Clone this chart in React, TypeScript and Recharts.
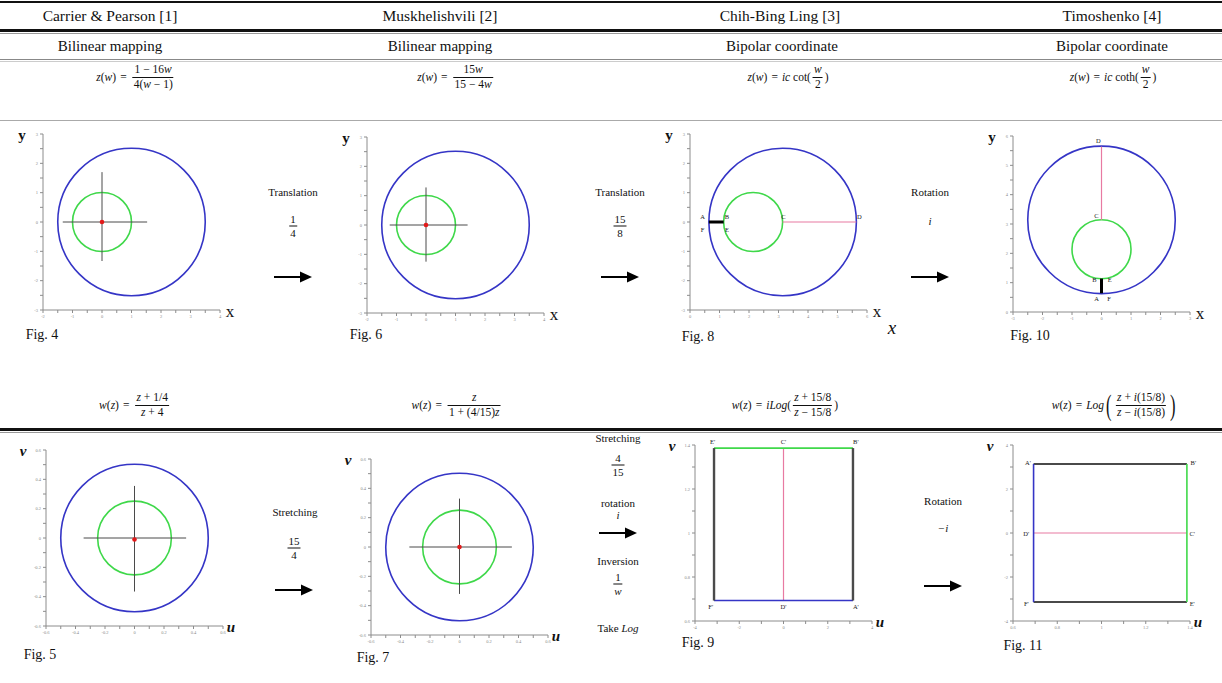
import { ScatterChart, Scatter, XAxis, YAxis, ReferenceDot } from 'recharts';

const SERIF = '"Liberation Serif", "Times New Roman", serif';
const BLUE = '#3535c6';
const GREEN = '#3fd84a';
const PINK = '#e87aa2';
const DARK = '#4a4a4a';
const RED = '#e21a1a';
const AXIS = '#8c8c8c';

// ---- data ---------------------------------------------------------------
const fig4X = [-2, -1, 0, 1, 2, 3, 4];
const fig4Y = [-3, -2, -1, 0, 1, 2, 3];
const fig4Outer = [{ x: 1, y: 0, r: 2.5 }];
const fig4Inner = [{ x: 0, y: 0, r: 1 }];
const fig4CrossH = [{ x: -1.33, y: 0 }, { x: 1.53, y: 0 }];
const fig4CrossV = [{ x: 0, y: -1.33 }, { x: 0, y: 1.7 }];
const fig4Center = [{ x: 0, y: 0 }];

const fig6X = [-2, -1, 0, 1, 2, 3, 4];
const fig6Y = [-3, -2, -1, 0, 1, 2, 3];
const fig6Outer = [{ x: 1, y: 0, r: 2.5 }];
const fig6Inner = [{ x: 0, y: 0, r: 1 }];
const fig6CrossH = [{ x: -1.23, y: 0 }, { x: 1.41, y: 0 }];
const fig6CrossV = [{ x: 0, y: -1.25 }, { x: 0, y: 1.28 }];
const fig6Center = [{ x: 0, y: 0 }];

const fig8X = [0, 1, 2, 3, 4, 5, 6];
const fig8Y = [-3, -2, -1, 0, 1, 2, 3];
const fig8Outer = [{ x: 3.14, y: 0, r: 2.5 }];
const fig8Inner = [{ x: 2.14, y: 0, r: 1 }];
const fig8Pink = [{ x: 3.14, y: 0 }, { x: 5.64, y: 0 }];
const fig8Cut = [{ x: 0.64, y: 0 }, { x: 1.14, y: 0 }];
const fig8Labels = [
  { x: 0.43, y: 0.2, t: 'A' }, { x: 1.25, y: 0.2, t: 'B' },
  { x: 0.43, y: -0.25, t: 'F' }, { x: 1.25, y: -0.25, t: 'E' },
  { x: 3.17, y: 0.2, t: 'C' }, { x: 5.74, y: 0.2, t: 'D' },
];

const fig10X = [-3, -2, -1, 0, 1, 2, 3];
const fig10Y = [0, 1, 2, 3, 4, 5, 6];
const fig10Outer = [{ x: 0, y: 3.14, r: 2.5 }];
const fig10Inner = [{ x: 0, y: 2.14, r: 1 }];
const fig10Pink = [{ x: 0, y: 3.14 }, { x: 0, y: 5.64 }];
const fig10Cut = [{ x: 0, y: 0.64 }, { x: 0, y: 1.14 }];
const fig10Labels = [
  { x: -0.11, y: 5.86, t: 'D' }, { x: -0.17, y: 3.28, t: 'C' },
  { x: -0.24, y: 1.1, t: 'B' }, { x: 0.28, y: 1.1, t: 'E' },
  { x: -0.17, y: 0.45, t: 'A' }, { x: 0.26, y: 0.45, t: 'F' },
];

const fig5X = [-0.6, -0.4, -0.2, 0, 0.2, 0.4, 0.6];
const fig5Y = [-0.6, -0.4, -0.2, 0, 0.2, 0.4, 0.6];
const fig5Outer = [{ x: 0, y: 0, r: 0.5 }];
const fig5Inner = [{ x: 0, y: 0, r: 0.25 }];
const fig5CrossH = [{ x: -0.345, y: 0 }, { x: 0.35, y: 0 }];
const fig5CrossV = [{ x: 0, y: -0.365 }, { x: 0, y: 0.355 }];
const fig5Center = [{ x: 0, y: -0.01 }];

const fig7X = [-0.6, -0.4, -0.2, 0, 0.2, 0.4, 0.6];
const fig7Y = [-0.6, -0.4, -0.2, 0, 0.2, 0.4, 0.6];
const fig7Outer = [{ x: 0, y: 0, r: 0.5 }];
const fig7Inner = [{ x: 0, y: 0, r: 0.25 }];
const fig7CrossH = [{ x: -0.34, y: 0 }, { x: 0.355, y: 0 }];
const fig7CrossV = [{ x: 0, y: -0.32 }, { x: 0, y: 0.33 }];
const fig7Center = [{ x: 0, y: 0 }];

const fig9X = [-4, -2, 0, 2, 4];
const fig9Y = [0.6, 0.8, 1, 1.2, 1.4];
const fig9Top = [{ x: -3.14, y: 1.386 }, { x: 3.14, y: 1.386 }];
const fig9Bottom = [{ x: -3.14, y: 0.693 }, { x: 3.14, y: 0.693 }];
const fig9Left = [{ x: -3.14, y: 0.693 }, { x: -3.14, y: 1.386 }];
const fig9Right = [{ x: 3.14, y: 0.693 }, { x: 3.14, y: 1.386 }];
const fig9Mid = [{ x: 0, y: 0.693 }, { x: 0, y: 1.386 }];
const fig9Labels = [
  { x: -3.2, y: 1.415, t: "E'" }, { x: 0, y: 1.415, t: "C'" }, { x: 3.27, y: 1.415, t: "B'" },
  { x: -3.29, y: 0.668, t: "F'" }, { x: 0, y: 0.668, t: "D'" }, { x: 3.27, y: 0.668, t: "A'" },
];

const fig11X = [0.6, 0.8, 1, 1.2, 1.4];
const fig11Y = [-4, -2, 0, 2, 4];
const fig11Left = [{ x: 0.693, y: -3.14 }, { x: 0.693, y: 3.14 }];
const fig11Right = [{ x: 1.386, y: -3.14 }, { x: 1.386, y: 3.14 }];
const fig11Top = [{ x: 0.693, y: 3.14 }, { x: 1.386, y: 3.14 }];
const fig11Bottom = [{ x: 0.693, y: -3.14 }, { x: 1.386, y: -3.14 }];
const fig11Mid = [{ x: 0.693, y: 0 }, { x: 1.386, y: 0 }];
const fig11Labels = [
  { x: 0.668, y: 3.21, t: "A'" }, { x: 1.415, y: 3.21, t: "B'" },
  { x: 0.66, y: -0.03, t: "D'" }, { x: 1.41, y: 0, t: "C'" },
  { x: 0.66, y: -3.2, t: "F'" }, { x: 1.41, y: -3.2, t: "E'" },
];

// ---- panel geometry -------------------------------------------------------
const PW = 177;
const PH = 176;
const YW = 24;
const XH = 18;
const M = { top: 10, right: 24, left: 0, bottom: 0 };

type Pt = { x: number; y: number };
type Circ = { data: (Pt & { r: number })[]; color: string };
type Seg = { data: Pt[]; color: string; w: number };
type Lab = Pt & { t: string };

const withMinor = (major: number[]) => {
  const out: number[] = [];
  major.forEach((v, i) => {
    out.push(v);
    if (i < major.length - 1) out.push((v + major[i + 1]) / 2);
  });
  return out;
};

function Panel(props: {
  left: number; top: number; xTicks: number[]; yTicks: number[];
  circles?: Circ[]; segs?: Seg[]; dots?: Pt[]; labels?: Lab[];
  xName: string; yName: string; uv?: boolean;
}) {
  const { left, top, xTicks, yTicks, circles = [], segs = [], dots, labels = [], xName, yName, uv } = props;
  const xDom: [number, number] = [xTicks[0], xTicks[xTicks.length - 1]];
  const yDom: [number, number] = [yTicks[0], yTicks[yTicks.length - 1]];
  const ppu = PW / (xDom[1] - xDom[0]);
  const xMajor = new Set(xTicks);
  const yMajor = new Set(yTicks);
  const tickStyle = { fontSize: 4.5, fill: '#8a8a8a', fontFamily: SERIF };

  return (
    <>
      <div style={{ position: 'absolute', left: left - YW, top: top - M.top }}>
        <ScatterChart width={YW + PW + M.right} height={M.top + PH + XH} margin={M}>
          <XAxis type="number" dataKey="x" domain={xDom} ticks={withMinor(xTicks)} interval={0}
            tickFormatter={(v: number) => (xMajor.has(v) ? String(v) : '')}
            tick={tickStyle} tickSize={3} stroke={AXIS} height={XH} />
          <YAxis type="number" dataKey="y" domain={yDom} ticks={withMinor(yTicks)} interval={0}
            tickFormatter={(v: number) => (yMajor.has(v) ? String(v) : '')}
            tick={tickStyle} tickSize={3} stroke={AXIS} width={YW} />
          {circles.map((c, i) => (
            <Scatter key={'c' + i} data={c.data} isAnimationActive={false}
              shape={(p: any) => (
                <circle cx={p.cx} cy={p.cy} r={p.payload.r * ppu} fill="none" stroke={c.color} strokeWidth={1.6} />
              )} />
          ))}
          {segs.map((s, i) => (
            <Scatter key={'s' + i} data={s.data} isAnimationActive={false} lineType="joint"
              line={{ stroke: s.color, strokeWidth: s.w }} shape={() => <g />} />
          ))}
          {dots && (
            <Scatter data={dots} isAnimationActive={false}
              shape={(p: any) => <circle cx={p.cx} cy={p.cy} r={2.3} fill={RED} />} />
          )}
          {labels.map((l, i) => (
            <ReferenceDot key={'l' + i} x={l.x} y={l.y} r={0} ifOverflow="visible"
              shape={(p: any) => (
                <text x={p.cx} y={p.cy} textAnchor="middle" dominantBaseline="central"
                  fontSize={6.5} fontFamily={SERIF} fill="#222">{l.t}</text>
              )} />
          ))}
        </ScatterChart>
      </div>
      <Txt x={left - (uv ? 23 : 21)} y={top + 1} size={15} bold italic={uv}>{yName}</Txt>
      <Txt x={left + PW + (uv ? 8 : 10)} y={top + PH + 1} size={uv ? 15 : 17} bold={uv} italic={uv}>{xName}</Txt>
    </>
  );
}

function Txt({ x, y, size = 11, bold, italic, children }: any) {
  return (
    <div style={{
      position: 'absolute', left: x, top: y, transform: 'translate(-50%, -50%)',
      fontFamily: SERIF, fontSize: size, fontWeight: bold ? 'bold' : 'normal',
      fontStyle: italic ? 'italic' : 'normal', whiteSpace: 'nowrap', lineHeight: 1, color: '#111',
    }}>{children}</div>
  );
}

function Frac({ n, d }: any) {
  return (
    <span style={{ display: 'inline-flex', flexDirection: 'column', alignItems: 'stretch', verticalAlign: 'middle', margin: '0 2px', textAlign: 'center' }}>
      <span style={{ padding: '0 1px 1px', lineHeight: 1 }}>{n}</span>
      <span style={{ borderTop: '0.8px solid #111', padding: '1px 1px 0', lineHeight: 1 }}>{d}</span>
    </span>
  );
}

function Formula({ x, y, children, size = 11.5 }: any) {
  return (
    <div style={{
      position: 'absolute', left: x, top: y, transform: 'translate(-50%, -50%)',
      fontFamily: SERIF, fontSize: size, whiteSpace: 'nowrap', display: 'flex', alignItems: 'center', color: '#111',
    }}>{children}</div>
  );
}

function Arrow({ x, y }: { x: number; y: number }) {
  return (
    <svg style={{ position: 'absolute', left: x - 19, top: y - 6 }} width={38} height={12}>
      <line x1={0} y1={6} x2={28} y2={6} stroke="#000" strokeWidth={2} />
      <polygon points="26,0.5 38,6 26,11.5" fill="#000" />
    </svg>
  );
}

const I = ({ children }: any) => <i>{children}</i>;
const Eq = () => <span style={{ margin: '0 4px' }}>=</span>;
const Paren = ({ c }: { c: string }) => (
  <span style={{ fontSize: 30, lineHeight: 1, transform: 'scaleX(0.55)', display: 'inline-block', fontWeight: 200 }}>{c}</span>
);

function HLine({ y, h, color }: { y: number; h: number; color: string }) {
  return <div style={{ position: 'absolute', left: 0, top: y, width: 1222, height: h, background: color }} />;
}

export default function App() {
  return (
    <div style={{ position: 'absolute', left: 0, top: 0, width: 1222, height: 683, background: '#fff', overflow: 'hidden' }}>
      <HLine y={1} h={2} color="#111" />
      <HLine y={29} h={2.5} color="#111" />
      <HLine y={32.5} h={1} color="#999" />
      <HLine y={59} h={1} color="#888" />
      <HLine y={61} h={1} color="#ccc" />
      <HLine y={120} h={1} color="#aaa" />
      <HLine y={428} h={2.5} color="#111" />
      <HLine y={432} h={1} color="#999" />

      <Txt x={110} y={16} size={15.5}>Carrier &amp; Pearson [1]</Txt>
      <Txt x={440} y={16} size={15.5}>Muskhelishvili [2]</Txt>
      <Txt x={780} y={16} size={15.5}>Chih-Bing Ling [3]</Txt>
      <Txt x={1112} y={16} size={15.5}>Timoshenko [4]</Txt>
      <Txt x={110} y={46} size={15}>Bilinear mapping</Txt>
      <Txt x={440} y={46} size={15}>Bilinear mapping</Txt>
      <Txt x={782} y={46} size={15}>Bipolar coordinate</Txt>
      <Txt x={1112} y={46} size={15}>Bipolar coordinate</Txt>

      <Formula x={136} y={77}><I>z</I>(<I>w</I>)<Eq /><Frac n={<>1 − 16<I>w</I></>} d={<>4(<I>w</I> − 1)</>} /></Formula>
      <Formula x={456} y={77}><I>z</I>(<I>w</I>)<Eq /><Frac n={<>15<I>w</I></>} d={<>15 − 4<I>w</I></>} /></Formula>
      <Formula x={788} y={77}><I>z</I>(<I>w</I>)<Eq /><I>ic</I>&nbsp;cot(<Frac n={<I>w</I>} d="2" />)</Formula>
      <Formula x={1113} y={77}><I>z</I>(<I>w</I>)<Eq /><I>ic</I>&nbsp;coth(<Frac n={<I>w</I>} d="2" />)</Formula>

      <Formula x={135} y={405}><I>w</I>(<I>z</I>)<Eq /><Frac n={<><I>z</I> + 1/4</>} d={<><I>z</I> + 4</>} /></Formula>
      <Formula x={457} y={405}><I>w</I>(<I>z</I>)<Eq /><Frac n={<I>z</I>} d={<>1 + (4/15)<I>z</I></>} /></Formula>
      <Formula x={785} y={405}><I>w</I>(<I>z</I>)<Eq /><I>iLog</I>(<Frac n={<><I>z</I> + 15/8</>} d={<><I>z</I> − 15/8</>} />)</Formula>
      <Formula x={1115} y={405}>
        <I>w</I>(<I>z</I>)<Eq /><I>Log</I>
        <Paren c="(" />
        <Frac n={<><I>z</I> + <I>i</I>(15/8)</>} d={<><I>z</I> − <I>i</I>(15/8)</>} />
        <Paren c=")" />
      </Formula>

      {/* row 1 panels */}
      <Panel left={43} top={134} xTicks={fig4X} yTicks={fig4Y} xName="x" yName="y"
        circles={[{ data: fig4Outer, color: BLUE }, { data: fig4Inner, color: GREEN }]}
        segs={[{ data: fig4CrossH, color: DARK, w: 1 }, { data: fig4CrossV, color: DARK, w: 1 }]}
        dots={fig4Center} />
      <Panel left={367} top={137} xTicks={fig6X} yTicks={fig6Y} xName="x" yName="y"
        circles={[{ data: fig6Outer, color: BLUE }, { data: fig6Inner, color: GREEN }]}
        segs={[{ data: fig6CrossH, color: DARK, w: 1 }, { data: fig6CrossV, color: DARK, w: 1 }]}
        dots={fig6Center} />
      <Panel left={690} top={134} xTicks={fig8X} yTicks={fig8Y} xName="x" yName="y"
        circles={[{ data: fig8Outer, color: BLUE }, { data: fig8Inner, color: GREEN }]}
        segs={[{ data: fig8Pink, color: PINK, w: 1.2 }, { data: fig8Cut, color: '#000', w: 3 }]}
        labels={fig8Labels} />
      <Panel left={1013} top={136} xTicks={fig10X} yTicks={fig10Y} xName="x" yName="y"
        circles={[{ data: fig10Outer, color: BLUE }, { data: fig10Inner, color: GREEN }]}
        segs={[{ data: fig10Pink, color: PINK, w: 1.2 }, { data: fig10Cut, color: '#000', w: 3 }]}
        labels={fig10Labels} />

      {/* row 2 panels */}
      <Panel left={46} top={450} xTicks={fig5X} yTicks={fig5Y} xName="u" yName="v" uv
        circles={[{ data: fig5Outer, color: BLUE }, { data: fig5Inner, color: GREEN }]}
        segs={[{ data: fig5CrossH, color: DARK, w: 1 }, { data: fig5CrossV, color: DARK, w: 1 }]}
        dots={fig5Center} />
      <Panel left={371} top={459} xTicks={fig7X} yTicks={fig7Y} xName="u" yName="v" uv
        circles={[{ data: fig7Outer, color: BLUE }, { data: fig7Inner, color: GREEN }]}
        segs={[{ data: fig7CrossH, color: DARK, w: 1 }, { data: fig7CrossV, color: DARK, w: 1 }]}
        dots={fig7Center} />
      <Panel left={695} top={445} xTicks={fig9X} yTicks={fig9Y} xName="u" yName="v" uv
        segs={[
          { data: fig9Mid, color: PINK, w: 1.2 },
          { data: fig9Top, color: GREEN, w: 1.6 },
          { data: fig9Bottom, color: BLUE, w: 1.6 },
          { data: fig9Left, color: DARK, w: 2.4 },
          { data: fig9Right, color: DARK, w: 2.4 },
        ]}
        labels={fig9Labels} />
      <Panel left={1013} top={445} xTicks={fig11X} yTicks={fig11Y} xName="u" yName="v" uv
        segs={[
          { data: fig11Mid, color: PINK, w: 1.2 },
          { data: fig11Top, color: DARK, w: 2 },
          { data: fig11Bottom, color: DARK, w: 2 },
          { data: fig11Left, color: BLUE, w: 1.6 },
          { data: fig11Right, color: GREEN, w: 1.6 },
        ]}
        labels={fig11Labels} />

      <Txt x={892} y={327} size={19} italic>x</Txt>

      {/* figure captions */}
      <Txt x={42} y={335} size={14}>Fig. 4</Txt>
      <Txt x={366} y={335} size={14}>Fig. 6</Txt>
      <Txt x={698} y={337} size={14}>Fig. 8</Txt>
      <Txt x={1030} y={336} size={14}>Fig. 10</Txt>
      <Txt x={40} y={655} size={14}>Fig. 5</Txt>
      <Txt x={373} y={658} size={14}>Fig. 7</Txt>
      <Txt x={698} y={643} size={14}>Fig. 9</Txt>
      <Txt x={1023} y={646} size={14}>Fig. 11</Txt>

      {/* transformation steps, row 1 */}
      <Txt x={293} y={192}>Translation</Txt>
      <Formula x={293} y={226} size={11}><Frac n="1" d="4" /></Formula>
      <Arrow x={293} y={277} />
      <Txt x={620} y={192}>Translation</Txt>
      <Formula x={620} y={226} size={11}><Frac n="15" d="8" /></Formula>
      <Arrow x={620} y={277} />
      <Txt x={930} y={192}>Rotation</Txt>
      <Txt x={930} y={221} italic>i</Txt>
      <Arrow x={930} y={277} />

      {/* transformation steps, row 2 */}
      <Txt x={295} y={512}>Stretching</Txt>
      <Formula x={294} y={548} size={11}><Frac n="15" d="4" /></Formula>
      <Arrow x={294} y={590} />
      <Txt x={618} y={438}>Stretching</Txt>
      <Formula x={618} y={465} size={11}><Frac n="4" d="15" /></Formula>
      <Txt x={618} y={503}>rotation</Txt>
      <Txt x={618} y={515} italic>i</Txt>
      <Arrow x={618} y={533} />
      <Txt x={618} y={561}>Inversion</Txt>
      <Formula x={618} y={584} size={11}><Frac n="1" d={<I>w</I>} /></Formula>
      <Txt x={618} y={628}>Take <I>Log</I></Txt>
      <Txt x={943} y={501}>Rotation</Txt>
      <Txt x={943} y={528} italic>−i</Txt>
      <Arrow x={943} y={586} />
    </div>
  );
}
